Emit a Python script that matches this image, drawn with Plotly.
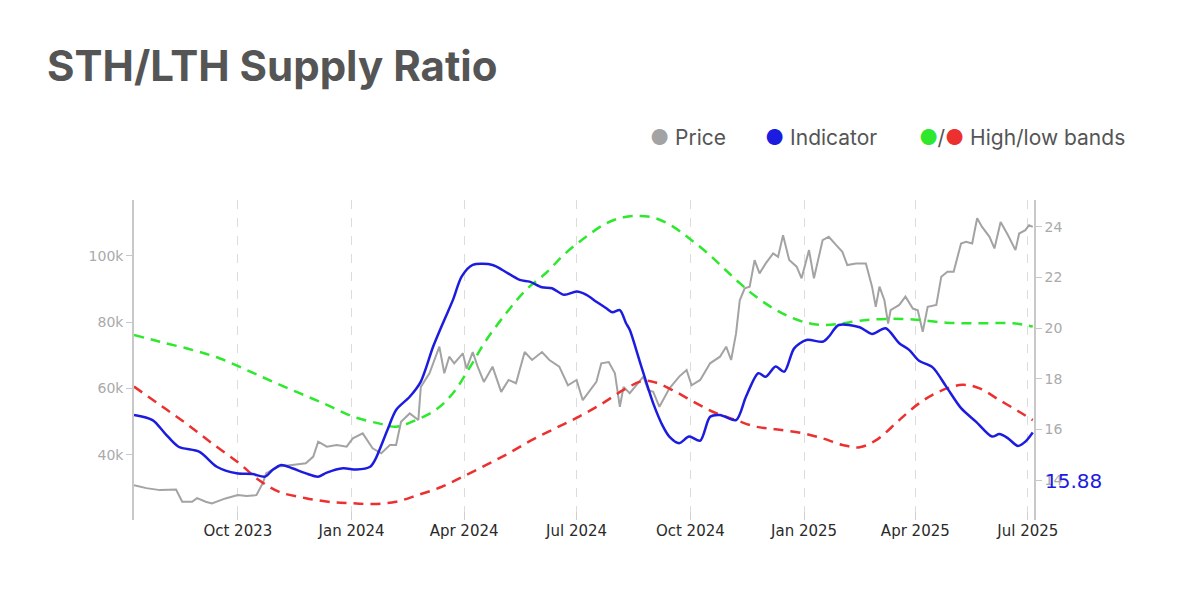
import plotly.graph_objects as go

# price (USD), left axis
price_dates = [
    "2023-07-09", "2023-07-19", "2023-07-30", "2023-08-12", "2023-08-17", "2023-08-25",
    "2023-08-29", "2023-09-05", "2023-09-10", "2023-09-21", "2023-10-01", "2023-10-08",
    "2023-10-16", "2023-10-21", "2023-10-24", "2023-11-03", "2023-11-14", "2023-11-25",
    "2023-12-01", "2023-12-05", "2023-12-12", "2023-12-20", "2023-12-28", "2024-01-02",
    "2024-01-10", "2024-01-18", "2024-01-25", "2024-02-01", "2024-02-06", "2024-02-10",
    "2024-02-17", "2024-02-24", "2024-02-26", "2024-03-04", "2024-03-12", "2024-03-16",
    "2024-03-20", "2024-03-24", "2024-03-31", "2024-04-03", "2024-04-08", "2024-04-12",
    "2024-04-17", "2024-04-24", "2024-05-01", "2024-05-07", "2024-05-13", "2024-05-20",
    "2024-05-26", "2024-06-03", "2024-06-09", "2024-06-17", "2024-06-24", "2024-07-01",
    "2024-07-06", "2024-07-10", "2024-07-17", "2024-07-21", "2024-07-27", "2024-08-01",
    "2024-08-05", "2024-08-08", "2024-08-13", "2024-08-24", "2024-08-28", "2024-09-01",
    "2024-09-06", "2024-09-14", "2024-09-22", "2024-09-28", "2024-10-02", "2024-10-09",
    "2024-10-17", "2024-10-25", "2024-10-30", "2024-11-03", "2024-11-07", "2024-11-10",
    "2024-11-14", "2024-11-18", "2024-11-22", "2024-11-26", "2024-12-01", "2024-12-07",
    "2024-12-11", "2024-12-15", "2024-12-20", "2024-12-26", "2024-12-30", "2025-01-05",
    "2025-01-09", "2025-01-16", "2025-01-21", "2025-01-27", "2025-02-01", "2025-02-05",
    "2025-02-12", "2025-02-20", "2025-02-25", "2025-02-28", "2025-03-03", "2025-03-07",
    "2025-03-10", "2025-03-12", "2025-03-19", "2025-03-24", "2025-03-30", "2025-04-03",
    "2025-04-07", "2025-04-11", "2025-04-18", "2025-04-22", "2025-04-27", "2025-05-02",
    "2025-05-08", "2025-05-12", "2025-05-17", "2025-05-21", "2025-05-25", "2025-05-31",
    "2025-06-04", "2025-06-09", "2025-06-15", "2025-06-21", "2025-06-24", "2025-06-29",
    "2025-07-02", "2025-07-05",
]
price = [
    30900, 30000, 29400, 29600, 25900, 25900,
    27000, 25900, 25400, 26900, 27900, 27600,
    27900, 31400, 34500, 36500, 37000, 37500,
    39500, 44000, 42500, 43000, 42500, 45000,
    46500, 42000, 40500, 43000, 43000, 50000,
    52500, 50500, 60500, 64600, 72600, 64600,
    69600, 67600, 70600, 66000, 71000, 66600,
    62000, 66600, 59000, 62600, 61600, 71000,
    68600, 71000, 68600, 66600, 61000, 62600,
    56500, 58600, 62000, 67600, 68000, 64600,
    54500, 60500, 58600, 63600, 59500, 59000,
    54500, 60000, 63600, 65600, 61000, 62600,
    67600, 69600, 72600, 68600, 76600, 86600,
    90200, 90700, 98700, 94700, 97700, 100700,
    99700, 106200, 98700, 96700, 93200, 101700,
    93200, 104700, 105700, 103200, 101200, 97200,
    97700, 97700, 90700, 84600, 90700, 86600,
    79600, 83600, 85200, 87700, 84100, 83600,
    77100, 84600, 85200, 93700, 95200, 95200,
    103700, 104200, 103700, 111300, 108700, 105700,
    102200, 110200, 106200, 101700, 106700, 107700,
    109200, 108700,
]

# STH/LTH indicator, right axis
ind_dates = [
    "2023-07-09", "2023-07-24", "2023-08-03", "2023-08-14", "2023-08-31", "2023-09-14",
    "2023-09-30", "2023-10-13", "2023-10-23", "2023-10-29", "2023-11-05", "2023-11-14",
    "2023-11-25", "2023-12-05", "2023-12-12", "2023-12-25", "2024-01-05", "2024-01-16",
    "2024-01-20", "2024-01-30", "2024-02-06", "2024-02-17", "2024-02-26", "2024-03-07",
    "2024-03-16", "2024-03-23", "2024-03-30", "2024-04-08", "2024-04-24", "2024-05-02",
    "2024-05-16", "2024-05-24", "2024-06-03", "2024-06-11", "2024-06-21", "2024-07-01",
    "2024-07-09", "2024-07-17", "2024-07-25", "2024-07-30", "2024-08-05", "2024-08-10",
    "2024-08-13", "2024-08-21", "2024-09-01", "2024-09-09", "2024-09-14", "2024-09-22",
    "2024-09-30", "2024-10-09", "2024-10-17", "2024-10-25", "2024-11-07", "2024-11-15",
    "2024-11-25", "2024-12-01", "2024-12-09", "2024-12-16", "2024-12-24", "2025-01-03",
    "2025-01-16", "2025-01-21", "2025-01-29", "2025-02-15", "2025-02-25", "2025-03-08",
    "2025-03-19", "2025-03-27", "2025-04-04", "2025-04-15", "2025-04-26", "2025-05-08",
    "2025-05-20", "2025-06-02", "2025-06-08", "2025-06-15", "2025-06-23", "2025-06-29",
    "2025-07-05",
]
indicator = [
    16.57, 16.37, 15.85, 15.32, 15.12, 14.53,
    14.27, 14.24, 14.14, 14.40, 14.60, 14.47,
    14.27, 14.14, 14.30, 14.47, 14.42, 14.53,
    14.80, 15.98, 16.77, 17.29, 17.89, 19.27,
    20.32, 21.11, 22.03, 22.49, 22.49, 22.29,
    21.90, 21.83, 21.61, 21.57, 21.31, 21.44,
    21.31, 21.04, 20.78, 20.62, 20.71, 20.19,
    19.93, 18.70, 17.03, 16.11, 15.72, 15.46,
    15.72, 15.56, 16.50, 16.57, 16.37, 17.29,
    18.22, 18.08, 18.48, 18.28, 19.20, 19.53,
    19.46, 19.66, 20.12, 20.03, 19.77, 19.99,
    19.40, 19.14, 18.71, 18.45, 17.69, 16.84,
    16.31, 15.72, 15.82, 15.65, 15.35, 15.52,
    15.88,
]

high_dates = [
    "2023-07-09", "2023-07-30", "2023-08-25", "2023-09-16", "2023-10-08", "2023-10-29",
    "2023-11-20", "2023-12-12", "2024-01-02", "2024-01-23", "2024-02-06", "2024-02-22",
    "2024-03-09", "2024-03-23", "2024-04-06", "2024-04-19", "2024-05-05", "2024-05-21",
    "2024-06-06", "2024-06-22", "2024-07-09", "2024-07-25", "2024-08-08", "2024-08-21",
    "2024-09-03", "2024-09-17", "2024-09-30", "2024-10-15", "2024-10-28", "2024-11-10",
    "2024-11-23", "2024-12-07", "2024-12-20", "2025-01-03", "2025-01-16", "2025-01-29",
    "2025-02-15", "2025-03-08", "2025-03-30", "2025-04-26", "2025-05-23", "2025-06-19",
    "2025-07-05",
]
high_band = [
    19.73, 19.46, 19.14, 18.81, 18.35, 17.89,
    17.43, 16.97, 16.51, 16.24, 16.11, 16.37,
    16.77, 17.43, 18.48, 19.53, 20.58, 21.50,
    22.16, 22.95, 23.61, 24.13, 24.37, 24.42,
    24.33, 24.00, 23.54, 22.95, 22.36, 21.77,
    21.24, 20.78, 20.45, 20.21, 20.12, 20.16,
    20.29, 20.36, 20.34, 20.21, 20.19, 20.19,
    20.06,
]

low_dates = [
    "2023-07-09", "2023-07-30", "2023-08-20", "2023-09-10", "2023-10-02", "2023-10-18",
    "2023-11-03", "2023-11-25", "2023-12-17", "2024-01-02", "2024-01-18", "2024-02-06",
    "2024-02-24", "2024-03-14", "2024-03-31", "2024-04-19", "2024-05-07", "2024-05-26",
    "2024-06-14", "2024-07-03", "2024-07-22", "2024-08-08", "2024-08-24", "2024-09-03",
    "2024-09-19", "2024-10-06", "2024-10-22", "2024-11-07", "2024-11-23", "2024-12-09",
    "2024-12-29", "2025-01-16", "2025-02-01", "2025-02-15", "2025-03-01", "2025-03-19",
    "2025-04-04", "2025-04-20", "2025-05-09", "2025-05-23", "2025-06-08", "2025-06-24",
    "2025-07-05",
]
low_band = [
    17.69, 16.97, 16.24, 15.46, 14.67, 14.01,
    13.55, 13.29, 13.13, 13.09, 13.06, 13.15,
    13.42, 13.74, 14.14, 14.60, 15.06, 15.59,
    16.05, 16.51, 17.03, 17.56, 17.92, 17.85,
    17.49, 17.03, 16.64, 16.37, 16.11, 16.01,
    15.87, 15.65, 15.39, 15.30, 15.60, 16.37,
    17.03, 17.49, 17.76, 17.62, 17.16, 16.70,
    16.37,
]

price_ticks = [40000, 60000, 80000, 100000]
price_labels = ["40k", "60k", "80k", "100k"]
ratio_ticks = [14, 16, 18, 20, 22, 24]

GREY = "#a3a3a3"
BLUE = "#1c1ce0"
GREEN = "#2ee82e"
RED = "#ec3030"

fig = go.Figure()
fig.add_trace(go.Scatter(x=price_dates, y=price, mode="lines", name="Price",
                         line=dict(color=GREY, width=2), yaxis="y"))
fig.add_trace(go.Scatter(x=high_dates, y=high_band, mode="lines", name="High band",
                         line=dict(color=GREEN, width=2.5, dash="10px,7px", shape="spline"),
                         yaxis="y2"))
fig.add_trace(go.Scatter(x=low_dates, y=low_band, mode="lines", name="Low band",
                         line=dict(color=RED, width=2.5, dash="10px,7px", shape="spline"),
                         yaxis="y2"))
fig.add_trace(go.Scatter(x=ind_dates, y=indicator, mode="lines", name="Indicator",
                         line=dict(color=BLUE, width=2.5, shape="spline", smoothing=0.8),
                         yaxis="y2"))

tick_font = dict(family="DejaVu Sans, Verdana, sans-serif", size=14, color="#aaaaaa")
legend_font = dict(family="Inter, sans-serif", size=21, color="#555555")

# page has an 8px body margin, so plot area 134..1034 x 200..520 on screen
L, T, R, B = 126, 192, 1026, 512


def px_x(p):
    return (p - 8 - L) / (R - L)


def px_y(p):
    return (B - (p - 8)) / (B - T)


annotations = [
    dict(x=px_x(648), y=px_y(137), text=f"<span style='color:{GREY}'>●</span> Price"),
    dict(x=px_x(763), y=px_y(137), text=f"<span style='color:{BLUE}'>●</span> Indicator"),
    dict(x=px_x(917), y=px_y(137),
         text=f"<span style='color:{GREEN}'>●</span>/<span style='color:{RED}'>●</span> High/low bands"),
]
for a in annotations:
    a.update(xref="paper", yref="paper", xanchor="left", yanchor="middle",
             showarrow=False, font=legend_font)
annotations.append(dict(x=px_x(1043), y=px_y(481), xref="paper", yref="paper",
                        xanchor="left", yanchor="middle", showarrow=False,
                        text=f"{indicator[-1]:.2f}",
                        font=dict(family="DejaVu Sans, sans-serif", size=20, color=BLUE)))

fig.update_layout(
    width=1200, height=601,
    margin=dict(l=L, r=1200 - R, t=T, b=601 - B),
    paper_bgcolor="white", plot_bgcolor="white",
    showlegend=False,
    title=dict(text="<b>STH/LTH Supply Ratio</b>", x=39 / 1200, xref="container", xanchor="left",
               y=1 - 58 / 601, yref="container", yanchor="middle",
               font=dict(family="Inter, sans-serif", size=42, color="#555555")),
    annotations=annotations,
    xaxis=dict(
        range=["2023-07-09", "2025-07-06"],
        tick0="2023-10-01", dtick="M3", tickformat="%b %Y",
        showgrid=True, gridcolor="#dcdcdc", griddash="dash", gridwidth=1,
        showline=False, zeroline=False,
        ticks="inside", ticklen=8, tickcolor="#d0d0d0",
        tickfont=dict(family="DejaVu Sans, Verdana, sans-serif", size=15, color="#2a2a2a"),
    ),
    yaxis=dict(
        range=[20400, 116800],
        tickvals=price_ticks, ticktext=price_labels,
        showgrid=False, zeroline=False,
        showline=True, linecolor="#c8c8c8", linewidth=1.5,
        ticks="outside", ticklen=6, tickcolor="#c8c8c8",
        tickfont=tick_font,
    ),
    yaxis2=dict(
        range=[12.43, 25.05], overlaying="y", side="right",
        tickvals=ratio_ticks,
        showgrid=False, zeroline=False,
        showline=True, linecolor="#c8c8c8", linewidth=1.5,
        ticks="outside", ticklen=6, tickcolor="#c8c8c8",
        tickfont=tick_font,
    ),
)

fig.write_html("out.html")
